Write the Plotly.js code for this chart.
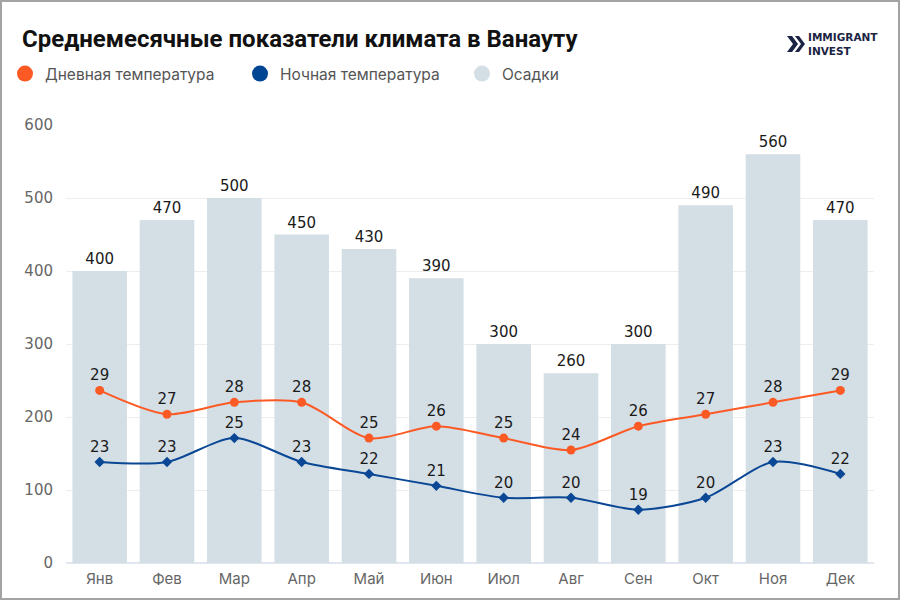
<!DOCTYPE html>
<html>
<head>
<meta charset="utf-8">
<script src="https://cdn.plot.ly/plotly-3.0.1.min.js"></script>
<style>
  html, body { margin: 0; padding: 0; background: #fff; }
  #wrap { position: relative; width: 900px; height: 600px; }
  #chart { width: 900px; height: 600px; }
  #frame { position: absolute; left: 0; top: 0; width: 896px; height: 596px;
           border: 2px solid #a3a3a3; pointer-events: none; }
</style>
</head>
<body>
<div id="wrap">
  <div id="chart"></div>
  <div id="frame"></div>
</div>
<script>
// Monthly climate data for Vanuatu
const months = ['Янв', 'Фев', 'Мар', 'Апр', 'Май', 'Июн', 'Июл', 'Авг', 'Сен', 'Окт', 'Ноя', 'Дек'];
const precipitation = [400, 470, 500, 450, 430, 390, 300, 260, 300, 490, 560, 470];
const dayTemp = [29, 27, 28, 28, 25, 26, 25, 24, 26, 27, 28, 29];
const nightTemp = [23, 23, 25, 23, 22, 21, 20, 20, 19, 20, 23, 22];
const legendNames = ['Дневная температура', 'Ночная температура', 'Осадки'];

const colors = { day: '#FC5A25', night: '#0A4795', rain: '#D4DEE5' };
const FONT = 'Inter, "Open Sans", sans-serif';
const NUM_FONT = '"DejaVu Sans", Inter, sans-serif';

// plot area in pixels, used to place the header items in paper coordinates
const M = { l: 66, r: 26, t: 125, b: 37, autoexpand: false };
const PW = 900 - M.l - M.r, PH = 600 - M.t - M.b;
const px = p => (p - M.l) / PW;
const py = p => (600 - M.b - p) / PH;

const traces = [
  {
    type: 'bar', x: months, y: precipitation, name: legendNames[2], showlegend: false,
    marker: { color: colors.rain }, text: precipitation.map(String), textposition: 'outside',
    textfont: { family: NUM_FONT, size: 15, color: '#1a1a1a' }, cliponaxis: false,
    hoverinfo: 'x+y'
  },
  {
    type: 'scatter', x: months, y: dayTemp, yaxis: 'y2', name: legendNames[0], showlegend: false,
    mode: 'lines+markers+text', line: { color: colors.day, width: 2, shape: 'spline', smoothing: 0.8 },
    marker: { color: colors.day, size: 9, symbol: 'circle' },
    text: dayTemp.map(String), textposition: 'top center',
    textfont: { family: NUM_FONT, size: 15, color: '#1a1a1a' }, cliponaxis: false
  },
  {
    type: 'scatter', x: months, y: nightTemp, yaxis: 'y2', name: legendNames[1], showlegend: false,
    mode: 'lines+markers+text', line: { color: colors.night, width: 2, shape: 'spline', smoothing: 0.8 },
    marker: { color: colors.night, size: 8, symbol: 'diamond' },
    text: nightTemp.map(String), textposition: 'top center',
    textfont: { family: NUM_FONT, size: 15, color: '#1a1a1a' }, cliponaxis: false
  },
  // legend entries drawn as round swatches, one legend box each
  { type: 'scatter', x: [null], y: [null], name: legendNames[0], mode: 'markers', legend: 'legend',
    marker: { color: colors.day, size: 16 } },
  { type: 'scatter', x: [null], y: [null], name: legendNames[1], mode: 'markers', legend: 'legend2',
    marker: { color: '#004494', size: 16 } },
  { type: 'scatter', x: [null], y: [null], name: legendNames[2], mode: 'markers', legend: 'legend3',
    marker: { color: colors.rain, size: 16 } }
];

const legendBase = x => ({
  orientation: 'h', x: x, xref: 'container', xanchor: 'left',
  y: 1 - 74 / 600, yref: 'container', yanchor: 'middle',
  font: { family: FONT, size: 15.5, color: '#555' }, itemsizing: 'trace',
  itemclick: false, bgcolor: 'rgba(0,0,0,0)'
});

const layout = {
  width: 900, height: 600,
  margin: M,
  paper_bgcolor: '#fff', plot_bgcolor: '#fff',
  font: { family: FONT, color: '#666' },
  title: {
    text: '<b>Среднемесячные показатели климата в Ванауту</b>',
    font: { family: 'Roboto, Inter, sans-serif', size: 24, color: '#111' },
    x: 22 / 900, xref: 'container', xanchor: 'left',
    y: 1 - 39 / 600, yref: 'container', yanchor: 'middle'
  },
  bargap: 0.19,
  showlegend: true,
  legend: legendBase(5 / 900),
  legend2: legendBase(240 / 900),
  legend3: legendBase(462 / 900),
  xaxis: {
    type: 'category', range: [-0.5, months.length - 0.5], autorange: false,
    showgrid: false, showline: false, ticks: '', ticklabelstandoff: 5,
    tickfont: { family: FONT, size: 15, color: '#666' }, fixedrange: true
  },
  yaxis: {
    range: [0, 600], dtick: 100, showgrid: true, gridcolor: '#EEEEEE', gridwidth: 1,
    zeroline: true, zerolinecolor: '#DFE6EF', zerolinewidth: 2,
    ticks: '', ticklabelstandoff: 12,
    tickfont: { family: NUM_FONT, size: 15, color: '#666' }, fixedrange: true
  },
  yaxis2: {
    overlaying: 'y', range: [14.53, 51.25], visible: false, showgrid: false, fixedrange: true
  },
  shapes: [
    // logo chevrons
    { type: 'path', xref: 'paper', yref: 'paper', fillcolor: '#1B2443', line: { width: 0 },
      path: `M ${px(787)} ${py(36)} L ${px(792)} ${py(36)} L ${px(798)} ${py(44)} L ${px(792)} ${py(52)} L ${px(787)} ${py(52)} L ${px(793)} ${py(44)} Z` },
    { type: 'path', xref: 'paper', yref: 'paper', fillcolor: '#1B2443', line: { width: 0 },
      path: `M ${px(795)} ${py(36)} L ${px(799)} ${py(36)} L ${px(805)} ${py(44)} L ${px(799)} ${py(52)} L ${px(795)} ${py(52)} L ${px(801)} ${py(44)} Z` }
  ],
  annotations: [
    { text: '<b>IMMIGRANT<br>INVEST</b>', xref: 'paper', yref: 'paper', x: px(806), y: py(44.5),
      xanchor: 'left', yanchor: 'middle', align: 'left', showarrow: false,
      font: { family: '"DejaVu Sans", sans-serif', size: 10.5, color: '#1B2443' } }
  ]
};

Plotly.newPlot('chart', traces, layout, { displayModeBar: false, staticPlot: true });
</script>
</body>
</html>
